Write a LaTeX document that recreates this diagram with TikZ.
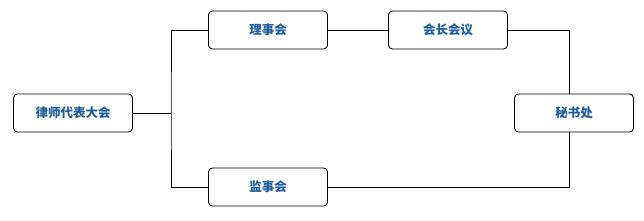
\documentclass[tikz,border=0pt]{standalone}
\usepackage{fontspec}
\newfontfamily\cjk{Noto Sans CJK SC}
\definecolor{txtblue}{HTML}{1F5E9E}
\begin{document}
\begin{tikzpicture}[x=1pt,y=-1pt,
  box/.style={draw=black,line width=0.9pt,rounded corners=4pt,fill=white,
    minimum width=119pt,minimum height=38pt,inner sep=0pt,
    font=\cjk\bfseries\fontsize{12.5}{14}\selectfont,text=txtblue},
  link/.style={draw=black,line width=0.9pt}]
\useasboundingbox (0,0) rectangle (644,221);
\node[box] (lvdb) at (73,113) {律师代表大会};
\node[box] (lsh) at (268,30) {理事会};
\node[box] (hzhy) at (448,30) {会长会议};
\node[box] (msc) at (574,113) {秘书处};
\node[box] (jsh) at (268,187) {监事会};
\coordinate (lj) at (171,113);
\draw[link] (lvdb.east) -- (lj);
\draw[link] (lsh.west) -| (lj) |- (jsh.west);
\draw[link] (lsh.east) -- (hzhy.west);
\draw[link] (hzhy.east) -| ([xshift=-5pt]msc.north);
\draw[link] (jsh.east) -| ([xshift=-5pt]msc.south);
\end{tikzpicture}
\end{document}
